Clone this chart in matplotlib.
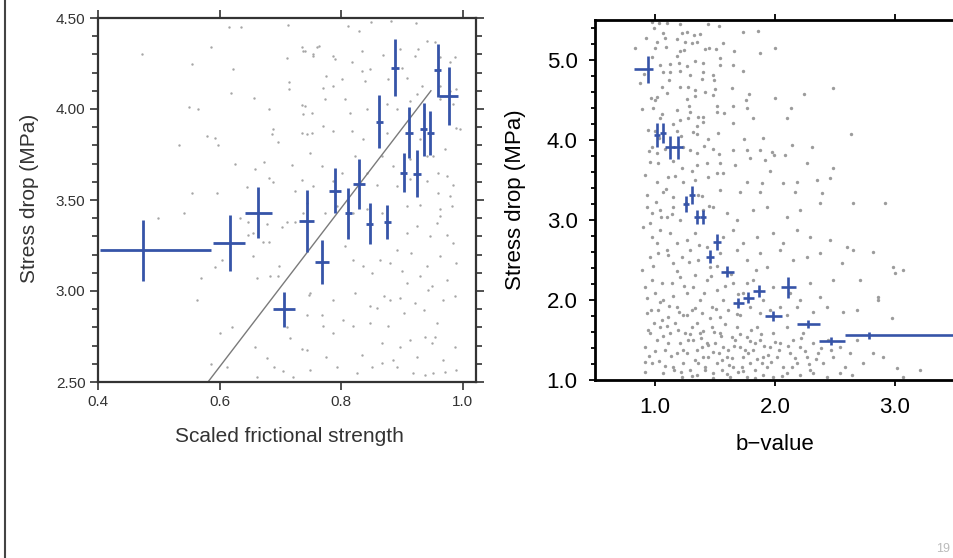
import matplotlib
matplotlib.use('Agg')
import matplotlib.pyplot as plt
from matplotlib.ticker import MultipleLocator, FormatStrFormatter
import numpy as np

plt.rcParams['font.family'] = ['Liberation Sans', 'DejaVu Sans']

# ---- left panel: stress drop vs scaled frictional strength ----
fric_x = [0.474, 0.617, 0.664, 0.706, 0.7435, 0.769, 0.790, 0.812, 0.830, 0.847,
          0.863, 0.876, 0.889, 0.903, 0.912, 0.925, 0.936, 0.947, 0.959, 0.977]
fric_y = [3.223, 3.264, 3.429, 2.900, 3.383, 3.161, 3.552, 3.426, 3.589, 3.369,
          3.931, 3.380, 4.228, 3.650, 3.870, 3.644, 3.888, 3.870, 4.212, 4.072]
fric_yerr = [0.168, 0.154, 0.14, 0.096, 0.17, 0.12, 0.124, 0.142, 0.138, 0.112,
             0.144, 0.095, 0.156, 0.108, 0.139, 0.13, 0.145, 0.121, 0.147, 0.158]
fric_xerr_lo = [0.071, 0.028, 0.022, 0.018, 0.012, 0.011, 0.0105, 0.006, 0.01, 0.006,
                0.006, 0.006, 0.006, 0.006, 0.006, 0.006, 0.006, 0.006, 0.006, 0.016]
fric_xerr_hi = [0.112, 0.025, 0.022, 0.018, 0.012, 0.011, 0.0105, 0.006, 0.01, 0.006,
                0.006, 0.006, 0.006, 0.006, 0.006, 0.006, 0.006, 0.006, 0.006, 0.016]
fit_x = [0.581, 0.948]
fit_y = [2.50, 4.10]

# background events (approximate)
fric_dots = [
    (0.472, 4.30), (0.616, 4.45), (0.635, 4.45), (0.586, 4.34), (0.555, 4.25), (0.622, 4.22),
    (0.713, 4.46), (0.711, 4.28), (0.715, 4.15), (0.715, 4.11), (0.619, 4.09), (0.657, 4.06),
    (0.55, 4.01), (0.565, 4.0), (0.681, 4.0), (0.735, 4.02), (0.737, 3.97), (0.752, 3.98),
    (0.533, 3.80), (0.58, 3.85), (0.593, 3.84), (0.597, 3.80), (0.688, 3.89), (0.686, 3.86),
    (0.696, 3.82), (0.744, 3.86), (0.736, 4.34), (0.741, 4.32), (0.754, 4.29), (0.76, 4.34),
    (0.626, 3.70), (0.674, 3.71), (0.658, 3.67), (0.72, 3.69), (0.681, 3.62), (0.688, 3.60),
    (0.736, 3.61), (0.555, 3.54), (0.596, 3.54), (0.645, 3.57), (0.724, 3.55),
    (0.542, 3.43), (0.499, 3.40), (0.57, 3.07), (0.563, 2.95), (0.593, 3.13), (0.661, 3.07),
    (0.698, 3.14), (0.683, 3.08), (0.696, 3.08), (0.60, 2.77), (0.621, 2.80), (0.586, 2.60),
    (0.612, 2.58), (0.658, 2.69), (0.678, 2.63), (0.69, 2.58), (0.661, 2.53), (0.705, 2.56),
    (0.721, 2.53), (0.736, 2.68), (0.744, 2.87), (0.747, 2.98), (0.711, 2.80), (0.716, 2.74),
    (0.634, 3.40), (0.647, 3.38), (0.647, 3.31), (0.655, 3.32), (0.678, 3.37), (0.681, 3.27),
    (0.703, 3.35), (0.711, 3.38), (0.724, 3.38), (0.737, 3.43), (0.655, 3.19), (0.672, 3.27),
    (0.604, 3.17),
    (0.812, 4.454), (0.829, 4.427), (0.849, 4.476), (0.882, 4.485), (0.923, 4.471),
    (0.955, 4.366), (0.942, 4.375), (0.738, 4.32), (0.763, 4.347), (0.754, 4.30),
    (0.787, 4.29), (0.79, 4.274), (0.834, 4.32), (0.818, 4.256), (0.834, 4.21),
    (0.848, 4.219), (0.869, 4.296), (0.897, 4.33), (0.927, 4.33), (0.922, 4.292),
    (0.963, 4.283), (0.979, 4.256), (0.988, 4.283), (0.776, 4.18), (0.801, 4.164),
    (0.84, 4.155), (0.878, 4.164), (0.90, 4.228), (0.908, 4.173), (0.741, 4.017),
    (0.771, 4.113), (0.787, 4.127), (0.774, 4.054), (0.807, 4.054), (0.815, 3.98),
    (0.842, 3.999), (0.875, 4.026), (0.914, 4.044), (0.892, 3.999), (0.925, 4.081),
    (0.933, 4.127), (0.963, 4.127), (0.979, 4.10), (0.99, 4.109), (0.963, 4.054),
    (0.985, 4.026), (0.735, 3.87), (0.752, 3.87), (0.771, 3.907), (0.787, 3.879),
    (0.818, 3.879), (0.837, 3.833), (0.875, 3.87), (0.93, 3.833), (0.952, 3.741),
    (0.971, 3.778), (0.99, 3.898), (0.996, 3.888), (0.749, 3.76), (0.768, 3.686),
    (0.801, 3.65), (0.823, 3.741), (0.867, 3.741), (0.886, 3.686), (0.914, 3.723),
    (0.941, 3.741), (0.96, 3.65), (0.974, 3.631), (0.985, 3.585), (0.754, 3.576),
    (0.787, 3.604), (0.842, 3.65), (0.859, 3.585), (0.892, 3.576), (0.914, 3.613),
    (0.941, 3.604), (0.979, 3.52), (0.96, 3.54),
    (0.744, 3.485), (0.774, 3.43), (0.793, 3.466), (0.82, 3.43), (0.842, 3.448),
    (0.867, 3.43), (0.908, 3.466), (0.93, 3.475), (0.963, 3.448), (0.982, 3.466),
    (0.908, 3.319), (0.925, 3.356), (0.947, 3.30), (0.958, 3.374), (0.963, 3.411),
    (0.974, 3.31), (0.985, 3.264), (0.807, 3.245), (0.82, 3.172), (0.837, 3.135),
    (0.851, 3.099), (0.864, 3.172), (0.881, 3.154), (0.892, 3.227), (0.90, 3.108),
    (0.908, 3.044), (0.916, 3.209), (0.93, 3.08), (0.941, 3.135), (0.949, 3.025),
    (0.963, 3.19), (0.974, 3.062), (0.99, 3.154), (0.749, 2.989), (0.768, 2.869),
    (0.787, 2.952), (0.823, 2.989), (0.848, 2.915), (0.859, 2.906), (0.87, 2.97),
    (0.881, 2.952), (0.897, 2.961), (0.903, 2.879), (0.922, 2.934), (0.936, 2.897),
    (0.944, 3.007), (0.958, 2.823), (0.968, 2.952), (0.988, 2.97), (0.744, 2.676),
    (0.771, 2.805), (0.787, 2.768), (0.804, 2.842), (0.82, 2.805), (0.848, 2.823),
    (0.867, 2.713), (0.878, 2.805), (0.886, 2.621), (0.897, 2.695), (0.914, 2.731),
    (0.925, 2.639), (0.938, 2.75), (0.949, 2.713), (0.955, 2.75), (0.968, 2.621),
    (0.988, 2.695), (0.776, 2.639), (0.793, 2.584), (0.834, 2.649), (0.851, 2.584),
    (0.867, 2.603), (0.892, 2.584), (0.919, 2.548), (0.938, 2.539), (0.952, 2.548),
    (0.971, 2.557), (0.99, 2.566), (0.749, 2.566), (0.826, 2.548),
]

# ---- right panel: stress drop vs b-value ----
b_x = [0.944, 1.019, 1.069, 1.125, 1.194, 1.258, 1.311, 1.347, 1.403, 1.458,
       1.519, 1.603, 1.694, 1.778, 1.867, 1.986, 2.111, 2.278, 2.467, 2.786]
b_y = [4.884, 4.06, 4.09, 3.91, 3.91, 3.20, 3.31, 3.04, 3.04, 2.54,
       2.72, 2.354, 1.959, 2.03, 2.116, 1.80, 2.159, 1.70, 1.49, 1.56]
b_yerr = [0.17, 0.15, 0.125, 0.144, 0.144, 0.094, 0.11, 0.0875, 0.0875, 0.08,
          0.1, 0.07, 0.0625, 0.07, 0.073, 0.058, 0.133, 0.05, 0.048, 0.044]
b_xerr_lo = [0.117, 0.025, 0.025, 0.04, 0.04, 0.025, 0.025, 0.025, 0.025, 0.03,
             0.035, 0.054, 0.045, 0.045, 0.049, 0.07, 0.0625, 0.093, 0.097, 0.2]
b_xerr_hi = [0.042, 0.025, 0.025, 0.04, 0.04, 0.025, 0.025, 0.025, 0.025, 0.03,
             0.035, 0.054, 0.045, 0.045, 0.049, 0.07, 0.0625, 0.093, 0.117, 1.0]

b_dots = [
    (0.972, 5.479), (1.036, 5.467), (1.103, 5.458), (1.208, 5.45), (0.992, 5.396),
    (1.069, 5.333), (1.222, 5.333), (1.264, 5.346), (1.325, 5.313), (1.375, 5.325),
    (1.444, 5.45), (1.536, 5.425), (1.736, 5.354), (1.861, 5.367), (0.925, 5.271),
    (1.083, 5.271), (1.181, 5.258), (1.306, 5.208), (1.347, 5.229), (1.564, 5.208),
    (0.833, 5.154), (1.0, 5.146), (1.092, 5.167), (1.208, 5.117), (1.242, 5.125),
    (1.417, 5.133), (1.453, 5.146), (1.506, 5.138), (1.658, 5.117), (1.875, 5.083),
    (2.0, 5.154), (0.972, 5.042), (1.042, 4.938), (1.125, 4.946), (1.203, 4.958),
    (1.264, 4.925), (1.333, 4.988), (1.397, 4.967), (1.542, 5.021), (1.542, 4.938),
    (1.653, 4.938), (1.736, 4.863), (1.069, 4.854), (1.125, 4.854), (1.208, 4.863),
    (1.292, 4.813), (1.389, 4.767), (1.486, 4.813), (1.492, 4.75), (0.875, 4.708),
    (1.056, 4.667), (1.097, 4.583), (1.208, 4.658), (1.278, 4.658), (1.333, 4.625),
    (1.417, 4.604), (1.5, 4.633), (1.639, 4.646), (1.786, 4.571), (2.0, 4.529),
    (2.244, 4.571), (2.486, 4.654), (1.0, 4.5), (1.019, 4.533), (1.264, 4.508),
    (1.333, 4.55), (1.486, 4.563), (1.758, 4.5), (0.894, 4.388), (0.986, 4.404),
    (1.056, 4.325), (1.181, 4.375), (1.292, 4.354), (1.397, 4.292), (1.514, 4.425),
    (1.519, 4.346), (1.575, 4.333), (1.653, 4.425), (1.764, 4.396), (1.819, 4.271),
    (2.103, 4.279), (2.133, 4.396), (1.042, 4.279), (1.208, 4.25), (1.278, 4.271),
    (1.361, 4.292), (1.397, 4.229), (1.653, 4.208), (0.944, 4.125), (1.0, 4.117),
    (1.181, 4.113), (1.319, 4.104), (1.347, 4.075), (1.444, 4.008), (1.528, 4.092),
    (1.744, 4.008), (1.903, 4.021), (1.994, 3.813), (2.139, 3.938), (2.306, 3.917),
    (2.631, 4.071), (0.972, 3.917), (1.014, 3.833), (1.236, 3.917), (1.292, 3.875),
    (1.347, 3.833), (1.408, 3.929), (1.486, 3.883), (1.533, 3.825), (1.653, 3.875),
    (1.764, 3.875), (1.875, 3.875), (1.972, 3.854), (0.958, 3.729), (1.028, 3.708),
    (1.153, 3.738), (1.222, 3.646), (1.347, 3.688), (1.431, 3.717), (1.542, 3.708),
    (1.667, 3.688), (1.792, 3.771), (1.917, 3.75), (2.083, 3.813), (2.264, 3.717),
    (2.486, 3.654), (0.917, 3.563), (1.014, 3.479), (1.111, 3.542), (1.236, 3.479),
    (1.333, 3.5), (1.444, 3.542), (1.514, 3.583), (1.569, 3.583), (1.764, 3.479),
    (1.889, 3.467), (1.958, 3.617), (2.069, 3.458), (2.181, 3.479), (2.347, 3.5),
    (2.458, 3.521), (0.931, 3.313), (1.069, 3.354), (1.153, 3.292), (1.361, 3.313),
    (1.542, 3.375), (1.708, 3.354), (1.875, 3.354), (2.167, 3.354), (2.389, 3.342),
    (0.931, 3.167), (0.972, 3.083), (1.042, 3.125), (1.097, 3.042), (1.153, 3.167),
    (1.208, 3.0), (1.403, 3.125), (1.486, 3.167), (1.597, 3.083), (1.681, 3.0),
    (1.819, 3.125), (1.931, 3.167), (2.097, 3.042), (2.208, 3.125), (2.375, 3.208),
    (2.653, 3.208), (2.917, 3.208), (0.903, 2.917), (0.972, 2.792), (1.042, 2.875),
    (1.125, 2.833), (1.181, 2.708), (1.264, 2.75), (1.333, 2.833), (1.431, 2.667),
    (1.569, 2.792), (1.653, 2.875), (1.736, 2.708), (1.847, 2.792), (1.986, 2.833),
    (2.069, 2.708), (2.181, 2.875), (2.292, 2.792), (2.458, 2.75), (2.597, 2.667),
    (0.889, 2.375), (0.958, 2.542), (1.028, 2.583), (1.097, 2.625), (1.153, 2.458),
    (1.222, 2.542), (1.292, 2.625), (1.361, 2.5), (1.458, 2.417), (1.542, 2.583),
    (1.681, 2.625), (1.764, 2.5), (1.875, 2.583), (1.931, 2.417), (2.042, 2.625),
    (2.153, 2.5), (2.264, 2.542), (2.375, 2.583), (2.653, 2.625), (2.819, 2.604),
    (0.917, 2.167), (0.972, 2.25), (1.0, 2.083), (1.069, 2.0), (1.139, 2.208),
    (1.208, 2.292), (1.264, 2.083), (1.319, 2.167), (1.375, 2.0), (1.431, 2.25),
    (1.514, 2.125), (1.569, 2.0), (1.653, 2.208), (1.736, 2.083), (1.819, 2.25),
    (1.903, 2.0), (1.986, 2.167), (2.042, 1.917), (2.125, 2.083), (2.208, 2.0),
    (2.292, 2.208), (2.375, 2.042), (2.486, 2.25), (2.556, 2.458), (2.708, 2.25),
    (2.861, 2.042), (2.986, 2.417), (3.0, 2.333), (3.069, 2.375), (0.931, 1.833),
    (1.028, 1.875), (1.111, 1.792), (1.181, 1.917), (1.236, 1.813), (1.306, 1.875),
    (1.389, 1.833), (1.472, 1.917), (1.542, 1.792), (1.611, 1.875), (1.708, 1.813),
    (1.792, 1.917), (1.875, 1.833), (1.958, 1.875), (2.097, 1.813), (2.181, 1.917),
    (2.319, 1.854), (2.431, 1.917), (2.569, 1.854), (2.681, 1.875), (2.861, 2.0),
    (2.972, 1.771), (0.917, 1.417), (0.958, 1.583), (1.014, 1.5), (1.042, 1.667),
    (1.083, 1.375), (1.125, 1.583), (1.167, 1.708), (1.208, 1.458), (1.25, 1.583),
    (1.264, 1.333), (1.306, 1.667), (1.319, 1.5), (1.347, 1.375), (1.375, 1.583),
    (1.403, 1.292), (1.431, 1.458), (1.472, 1.667), (1.486, 1.354), (1.514, 1.208),
    (1.542, 1.583), (1.569, 1.417), (1.597, 1.292), (1.639, 1.542), (1.653, 1.167),
    (1.681, 1.667), (1.708, 1.417), (1.736, 1.292), (1.764, 1.542), (1.792, 1.208),
    (1.819, 1.375), (1.847, 1.667), (1.875, 1.5), (1.903, 1.292), (1.931, 1.167),
    (1.958, 1.417), (1.986, 1.583), (2.014, 1.292), (2.042, 1.458), (2.069, 1.167),
    (2.097, 1.667), (2.125, 1.333), (2.153, 1.5), (2.181, 1.208), (2.208, 1.417),
    (2.236, 1.583), (2.264, 1.292), (2.292, 1.125), (2.319, 1.458), (2.361, 1.333),
    (2.403, 1.208), (2.444, 1.5), (2.486, 1.292), (2.542, 1.417), (2.583, 1.167),
    (2.625, 1.333), (2.681, 1.5), (2.736, 1.208), (2.819, 1.333), (2.903, 1.292),
    (3.014, 1.146), (3.069, 1.042), (3.208, 1.125), (0.917, 1.104), (0.972, 1.208),
    (1.069, 1.083), (1.153, 1.167), (1.222, 1.042), (1.292, 1.125), (1.347, 1.063),
    (1.417, 1.167), (1.486, 1.083), (1.556, 1.125), (1.625, 1.042), (1.694, 1.104),
    (1.764, 1.042), (1.833, 1.125), (1.903, 1.063), (1.986, 1.042), (2.097, 1.083),
    (2.208, 1.063), (2.319, 1.083), (2.431, 1.042), (2.542, 1.083), (2.639, 1.063),
    (1.056, 1.75), (1.111, 1.458), (1.181, 1.333), (1.236, 1.208), (1.278, 1.5),
    (1.333, 1.25), (1.389, 1.417), (1.444, 1.292), (1.5, 1.458), (1.556, 1.25),
    (1.611, 1.375), (1.667, 1.5), (1.722, 1.167), (1.778, 1.333), (1.833, 1.458),
    (1.889, 1.208),
    # denser core of the cloud
    (0.95, 1.30), (0.99, 1.71), (1.03, 1.24), (1.07, 1.55), (1.12, 1.92), (1.16, 1.12),
    (1.19, 1.62), (1.23, 1.37), (1.27, 1.81), (1.31, 1.05), (1.35, 1.71), (1.38, 1.52),
    (1.42, 1.13), (1.46, 1.78), (1.49, 1.60), (1.53, 1.34), (1.58, 1.70), (1.62, 1.19),
    (1.66, 1.43), (1.71, 1.57), (1.75, 1.38), (1.80, 1.62), (1.85, 1.26), (1.91, 1.42),
    (1.97, 1.23), (2.03, 1.37), (2.11, 1.42), (2.17, 1.27), (2.25, 1.36), (2.34, 1.26),
    (2.47, 1.37), (0.93, 2.02), (0.98, 2.43), (1.02, 2.71), (1.06, 2.21), (1.11, 2.56),
    (1.15, 2.05), (1.18, 2.36), (1.24, 2.18), (1.28, 2.47), (1.33, 2.31), (1.37, 2.69),
    (1.41, 2.09), (1.47, 2.30), (1.52, 2.42), (1.58, 2.17), (1.63, 2.33), (1.69, 2.07),
    (1.77, 2.21), (1.84, 2.38), (0.96, 2.96), (1.01, 3.22), (1.05, 3.04), (1.09, 3.39),
    (1.14, 3.07), (1.17, 3.55), (1.26, 3.21), (1.31, 3.61), (1.39, 3.30), (1.45, 3.18),
    (0.95, 3.86), (1.03, 4.02), (1.08, 3.89), (1.15, 4.20), (1.22, 4.05), (1.28, 4.42),
    (1.35, 4.18), (1.12, 4.75), (1.18, 5.05), (1.02, 5.22), (0.91, 4.82), (0.97, 4.52),
    (1.25, 5.22), (1.40, 4.85), (0.92, 1.22), (0.94, 1.62), (0.97, 1.88), (1.00, 1.36),
    (1.04, 1.97), (1.08, 1.18), (1.10, 1.67), (1.13, 1.30), (1.20, 1.85), (1.22, 1.10),
    (1.29, 1.58), (1.33, 1.90), (1.36, 1.21), (1.40, 1.61), (1.44, 1.44), (1.48, 1.02),
    (1.51, 1.89), (1.55, 1.55), (1.60, 1.07), (1.64, 1.28), (1.68, 1.82), (1.73, 1.11),
    (1.79, 1.49), (1.83, 1.03), (1.88, 1.58), (1.94, 1.31), (2.00, 1.48), (2.06, 1.05),
    (2.14, 1.16), (2.22, 1.52), (2.28, 1.20), (2.38, 1.40),
]

blue = '#3654a8'
W, H = 954, 558


def style_left(ax):
    ax.set_xlim(0.4, 1.0222)
    ax.set_ylim(2.5, 4.5)
    ax.xaxis.set_major_locator(MultipleLocator(0.2))
    ax.yaxis.set_major_locator(MultipleLocator(0.5))
    ax.yaxis.set_minor_locator(MultipleLocator(0.1))
    ax.xaxis.set_major_formatter(FormatStrFormatter('%.1f'))
    ax.yaxis.set_major_formatter(FormatStrFormatter('%.2f'))
    ax.tick_params(which='both', direction='out', top=True, right=True,
                   colors='#333333', labelsize=11, width=1.2)
    ax.tick_params(which='major', length=6, pad=3)
    ax.tick_params(which='minor', length=4)
    for s in ax.spines.values():
        s.set_color('#333333')
        s.set_linewidth(1.6)


def style_right(ax):
    ax.set_xlim(0.5, 3.6)
    ax.set_ylim(1.0, 5.5)
    ax.xaxis.set_major_locator(MultipleLocator(1.0))
    ax.yaxis.set_major_locator(MultipleLocator(1.0))
    ax.yaxis.set_minor_locator(MultipleLocator(0.2))
    ax.xaxis.set_major_formatter(FormatStrFormatter('%.1f'))
    ax.yaxis.set_major_formatter(FormatStrFormatter('%.1f'))
    ax.tick_params(which='both', direction='out', top=True, right=False,
                   colors='black', labelsize=16, width=1.3)
    ax.tick_params(which='major', length=4.5, pad=8)
    ax.tick_params(which='minor', length=3)
    ax.spines['right'].set_visible(False)
    for s in ax.spines.values():
        s.set_color('black')
        s.set_linewidth(2.0)


fig = plt.figure(figsize=(W / 100, H / 100), dpi=100)

# left panel
ax1 = fig.add_axes([98 / W, 1 - 382 / H, 378 / W, 364 / H])
d = np.array(fric_dots)
ax1.scatter(d[:, 0], d[:, 1], s=3, c='#a6a6a6', linewidths=0, zorder=1)
ax1.plot(fit_x, fit_y, color='#7a7a7a', lw=1.0, zorder=2)
ax1.errorbar(fric_x, fric_y, yerr=fric_yerr, xerr=[fric_xerr_lo, fric_xerr_hi],
             fmt='none', ecolor=blue, elinewidth=2.0, capsize=0, zorder=3)
style_left(ax1)
fig.text(30 / W, 1 - 198 / H, 'Stress drop (MPa)', rotation=90, ha='center',
         va='center', fontsize=15, color='#333333')
fig.text(289 / W, 1 - 436 / H, 'Scaled frictional strength', ha='center',
         va='center', fontsize=15, color='#333333')

# right panel (runs off the right edge of the slide)
ax2 = fig.add_axes([595 / W, 1 - 380 / H, 372 / W, 360 / H])
d = np.array(b_dots)
ax2.scatter(d[:, 0], d[:, 1], s=6, c='#9c9c9c', linewidths=0, zorder=1)
ax2.errorbar(b_x, b_y, yerr=b_yerr, xerr=[b_xerr_lo, b_xerr_hi],
             fmt='none', ecolor=blue, elinewidth=1.9, capsize=0, zorder=3)
style_right(ax2)
fig.text(515 / W, 1 - 200 / H, 'Stress drop (MPa)', rotation=90, ha='center',
         va='center', fontsize=16, color='black')
fig.text(775 / W, 1 - 445 / H, 'b\u2212value', ha='center', va='center',
         fontsize=16, color='black')

# slide frame and page number
fig.add_artist(plt.Line2D([5 / W, 5 / W], [0, 1], color='#444444', lw=1.5))
fig.text(936 / W, 1 - 549 / H, '19', fontsize=9, color='#bbbbbb', ha='left', va='center')

fig.savefig('out.png', dpi=100)
